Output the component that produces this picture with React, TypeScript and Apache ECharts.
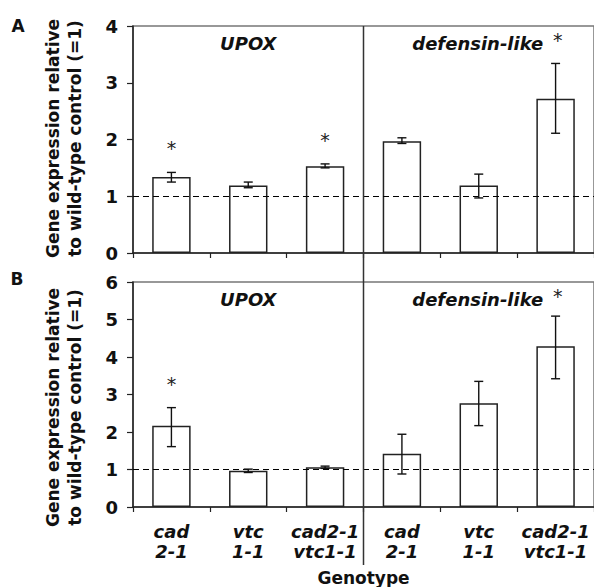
import React, { useEffect, useRef } from "react";
import * as echarts from "echarts";

const categories = ["cad\n2-1", "vtc\n1-1", "cad2-1\nvtc1-1", "cad\n2-1", "vtc\n1-1", "cad2-1\nvtc1-1"];
const yTicksA = [0, 1, 2, 3, 4];
const yTicksB = [0, 1, 2, 3, 4, 5, 6];

const valuesA = [1.34, 1.19, 1.53, 1.97, 1.19, 2.72];
const errLowA = [1.25, 1.15, 1.5, 1.93, 0.97, 2.11];
const errHighA = [1.42, 1.25, 1.57, 2.03, 1.39, 3.34];
const starsA = [1, 0, 1, 0, 0, 0];

const valuesB = [2.17, 0.97, 1.06, 1.42, 2.77, 4.29];
const errLowB = [1.61, 0.92, 1.03, 0.88, 2.17, 3.42];
const errHighB = [2.65, 1.01, 1.09, 1.94, 3.35, 5.09];
const starsB = [1, 0, 0, 0, 0, 0];

const geneLeft = "UPOX";
const geneRight = "defensin-like";
const yTitle = "Gene expression relative\nto wild-type control (=1)";
const xTitle = "Genotype";

const FONT = "DejaVu Sans";
const DARK = "#222";

function errSeries(idx: number, lo: number[], hi: number[], st: number[]) {
  return {
    type: "custom",
    xAxisIndex: idx,
    yAxisIndex: idx,
    z: 5,
    data: lo.map((l, i) => [i, l, hi[i], st[i]]),
    encode: { x: 0, y: [1, 2] },
    renderItem: (params: any, api: any) => {
      const i = api.value(0);
      const top = api.coord([i, api.value(2)]);
      const bot = api.coord([i, api.value(1)]);
      const cap = 4.5;
      const ls = { stroke: "#111", lineWidth: 1.4 };
      const children: any[] = [
        { type: "line", shape: { x1: top[0], y1: top[1], x2: bot[0], y2: bot[1] }, style: ls },
        { type: "line", shape: { x1: top[0] - cap, y1: top[1], x2: top[0] + cap, y2: top[1] }, style: ls },
        { type: "line", shape: { x1: bot[0] - cap, y1: bot[1], x2: bot[0] + cap, y2: bot[1] }, style: ls },
      ];
      if (api.value(3)) {
        children.push({
          type: "text",
          x: top[0],
          y: top[1] - 24,
          style: { text: "*", fontSize: 19, fontFamily: FONT, fill: "#222", align: "center", verticalAlign: "middle" },
        });
      }
      return { type: "group", children };
    },
  };
}

function barSeries(idx: number, vals: number[]) {
  return {
    type: "bar",
    xAxisIndex: idx,
    yAxisIndex: idx,
    data: vals,
    barWidth: "50%",
    itemStyle: { color: "#fff", borderColor: DARK, borderWidth: 1.5 },
    markLine: {
      silent: true,
      symbol: ["none", "none"],
      label: { show: false },
      lineStyle: { type: [6, 4], color: "#000", width: 1.2 },
      data: [{ yAxis: 1 }],
    },
  };
}

export default function App() {
  const ref = useRef<HTMLDivElement>(null);
  useEffect(() => {
    if (!ref.current) return;
    const chart = echarts.init(ref.current, undefined, { renderer: "svg" });
    const grids = [
      { left: 133, top: 26, width: 465, height: 227 },
      { left: 133, top: 282, width: 465, height: 225 },
    ];
    const option: any = {
      animation: false,
      textStyle: { fontFamily: FONT },
      grid: grids.map((g) => ({ ...g, show: true, borderColor: "#777", borderWidth: 1.5, backgroundColor: "transparent" })),
      xAxis: [0, 1].map((i) => ({
        type: "category",
        gridIndex: i,
        data: categories,
        axisLine: { show: true, lineStyle: { color: DARK, width: 1.5 } },
        axisTick: { show: true, length: 5, lineStyle: { color: DARK, width: 1.2 } },
        splitLine: { show: false },
        axisLabel:
          i === 0
            ? { show: false }
            : { show: true, interval: 0, margin: 14, fontSize: 18, fontWeight: "bold", fontStyle: "italic", color: "#111", lineHeight: 20, fontFamily: FONT },
      })),
      yAxis: [
        [yTicksA, 0],
        [yTicksB, 1],
      ].map(([ticks, i]: any) => ({
        type: "value",
        gridIndex: i,
        min: ticks[0],
        max: ticks[ticks.length - 1],
        interval: 1,
        axisLine: { show: true, lineStyle: { color: DARK, width: 1.5 } },
        axisTick: { show: true, length: 6, lineStyle: { color: DARK, width: 1.2 } },
        splitLine: { show: false },
        axisLabel: { fontSize: 18, fontWeight: "bold", color: "#111", margin: 15, fontFamily: FONT },
      })),
      series: [
        barSeries(0, valuesA),
        errSeries(0, errLowA, errHighA, starsA),
        barSeries(1, valuesB),
        errSeries(1, errLowB, errHighB, starsB),
      ],
    };
    chart.setOption(option);

    const c2 = chart.convertToPixel({ xAxisIndex: 0 } as any, 2) as number;
    const c3 = chart.convertToPixel({ xAxisIndex: 0 } as any, 3) as number;
    const c0 = chart.convertToPixel({ xAxisIndex: 0 } as any, 0) as number;
    const c5 = chart.convertToPixel({ xAxisIndex: 0 } as any, 5) as number;
    const band = c3 - c2;
    const divX = (c2 + c3) / 2;
    const leftMid = (c0 - band / 2 + divX) / 2;
    const rightMid = (divX + c5 + band / 2) / 2;
    const topA = chart.convertToPixel({ yAxisIndex: 0 } as any, 4) as number;
    const botA = chart.convertToPixel({ yAxisIndex: 0 } as any, 0) as number;
    const topB = chart.convertToPixel({ yAxisIndex: 1 } as any, 6) as number;
    const botB = chart.convertToPixel({ yAxisIndex: 1 } as any, 0) as number;

    const titleStyle = { fontSize: 18, fontWeight: "bold", fontStyle: "italic", fontFamily: FONT, fill: "#111", align: "center", verticalAlign: "middle" };
    const graphic: any[] = [
      { type: "line", shape: { x1: divX, y1: topA, x2: divX, y2: botB + 58 }, style: { stroke: "#333", lineWidth: 1.5 }, z: 10 },
      { type: "text", x: 18, y: topA, style: { text: "A", fontSize: 17, fontWeight: "bold", fontFamily: FONT, fill: "#111", align: "center", verticalAlign: "middle" } },
      { type: "text", x: 17, y: topB - 3, style: { text: "B", fontSize: 17, fontWeight: "bold", fontFamily: FONT, fill: "#111", align: "center", verticalAlign: "middle" } },
    ];
    [[topA, botA], [topB, botB]].forEach(([t, b], k) => {
      graphic.push({ type: "text", x: leftMid, y: t + 17, style: { ...titleStyle, text: geneLeft } });
      graphic.push({ type: "text", x: rightMid - 1, y: t + 17, style: { ...titleStyle, text: geneRight } });
      graphic.push({ type: "text", x: rightMid + 79, y: t + 14, style: { text: "*", fontSize: 19, fontFamily: FONT, fill: "#222", align: "center", verticalAlign: "middle" } });
      graphic.push({
        type: "text",
        x: 64,
        y: k === 0 ? (t + b) / 2 - 1 : (t + b) / 2 + 13,
        rotation: Math.PI / 2,
        style: { text: yTitle, fontSize: 17, fontWeight: "bold", fontFamily: FONT, fill: "#111", align: "center", verticalAlign: "middle", lineHeight: 22 },
      });
    });
    graphic.push({ type: "text", x: divX, y: botB + 71, style: { text: xTitle, fontSize: 17, fontWeight: "bold", fontFamily: FONT, fill: "#111", align: "center", verticalAlign: "middle" } });
    chart.setOption({ graphic });

    return () => chart.dispose();
  }, []);
  return <div ref={ref} style={{ position: "fixed", left: 0, top: 0, width: 594, height: 587, background: "#fff" }} />;
}
